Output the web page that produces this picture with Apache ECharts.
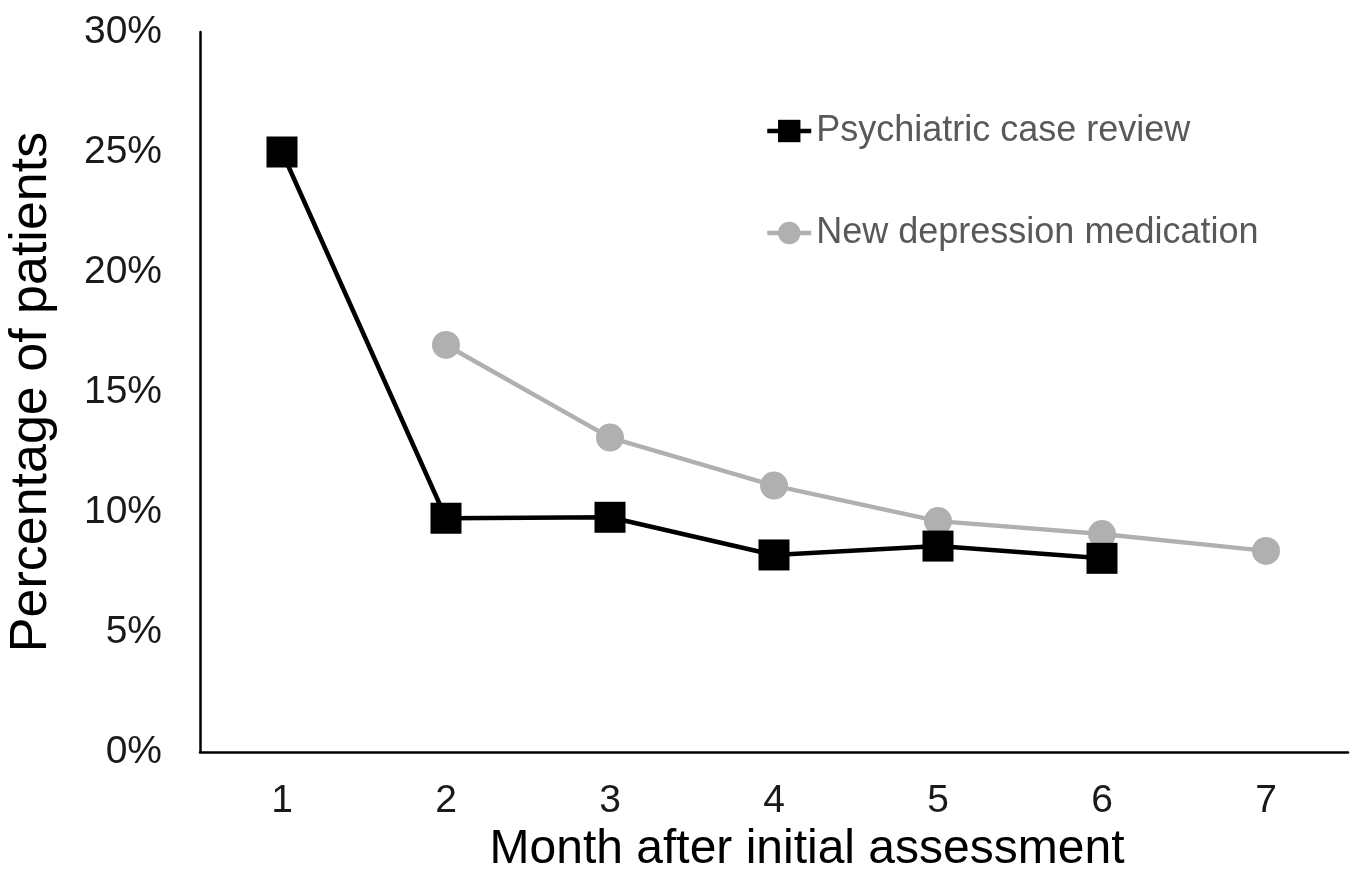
<!DOCTYPE html>
<html>
<head>
<meta charset="utf-8">
<script src="https://cdn.jsdelivr.net/npm/echarts@6/dist/echarts.min.js"></script>
<style>
html,body{margin:0;padding:0;background:#fff;}
#chart{width:1355px;height:875px;}
</style>
</head>
<body>
<div id="chart"></div>
<script>
const months = ['1','2','3','4','5','6','7'];
const psychiatricReview = [25.0, 9.74, 9.78, 8.21, 8.58, 8.07, null];
const newMedication = [null, 16.96, 13.10, 11.10, 9.62, 9.08, 8.38];
const yTicks = [0, 5, 10, 15, 20, 25, 30];

const FONT = '"Liberation Sans", Arial, sans-serif';
const chart = echarts.init(document.getElementById('chart'));
chart.setOption({
  backgroundColor: '#ffffff',
  animation: false,
  grid: {left: 200, right: 7, top: 32, bottom: 123, containLabel: false, outerBoundsMode: 'none'},
  legend: {
    orient: 'vertical',
    left: 760,
    top: 108,
    itemGap: 66,
    itemWidth: 44,
    itemHeight: 28,
    lineStyle: {width: 4.5},
    textStyle: {fontFamily: FONT, fontSize: 36, color: '#595959'},
    data: ['Psychiatric case review', 'New depression medication']
  },
  xAxis: {
    type: 'category',
    data: months,
    boundaryGap: true,
    axisLine: {lineStyle: {color: '#000', width: 2.5}},
    axisTick: {show: false},
    axisLabel: {fontFamily: FONT, fontSize: 39, color: '#1a1a1a', margin: 30},
    name: 'Month after initial assessment',
    nameLocation: 'middle',
    nameGap: 50,
    nameTextStyle: {fontFamily: FONT, fontSize: 48, color: '#000', padding: [0, 0, 0, 66]}
  },
  yAxis: {
    type: 'value',
    min: yTicks[0],
    max: yTicks[yTicks.length - 1],
    interval: yTicks[1] - yTicks[0],
    axisLine: {show: true, lineStyle: {color: '#000', width: 2.5}},
    axisTick: {show: false},
    splitLine: {show: false},
    axisLabel: {fontFamily: FONT, fontSize: 39, color: '#1a1a1a', margin: 38, formatter: '{value}%'},
    name: 'Percentage of patients',
    nameLocation: 'middle',
    nameGap: 142,
    nameTextStyle: {fontFamily: FONT, fontSize: 52, color: '#000'}
  },
  series: [
    {
      name: 'New depression medication',
      type: 'line',
      data: newMedication,
      symbol: 'circle',
      symbolSize: 28,
      lineStyle: {color: '#b0b0b0', width: 4.5},
      itemStyle: {color: '#b0b0b0'},
      z: 2
    },
    {
      name: 'Psychiatric case review',
      type: 'line',
      data: psychiatricReview,
      symbol: 'rect',
      symbolSize: 31,
      lineStyle: {color: '#000', width: 4.5},
      itemStyle: {color: '#000'},
      z: 3
    }
  ]
});
</script>
</body>
</html>
